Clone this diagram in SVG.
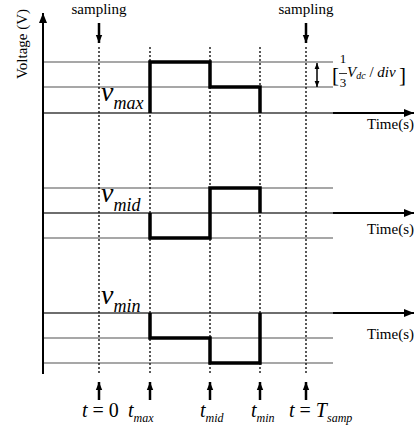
<svg xmlns="http://www.w3.org/2000/svg" width="417" height="427" viewBox="0 0 417 427">
<defs>
<style>
text{font-family:"Liberation Serif","Times New Roman",serif;fill:#000}
.it{font-style:italic}
.grid{stroke:#8a8a8a;stroke-width:1.5;fill:none}
.axisg{stroke:#6e6e6e;stroke-width:2;fill:none}
.axis{stroke:#000;stroke-width:2;fill:none}
.dot{stroke:#000;stroke-width:1.3;stroke-dasharray:2 2;fill:none}
.wave{stroke:#000;stroke-width:3.5;fill:none;stroke-linejoin:miter}
.arr{stroke:#000;stroke-width:2.5;fill:none}
.lbl{font-size:15px}
.tl{font-size:15px}
</style>
<marker id="ah" viewBox="0 0 10 8" refX="10" refY="4" markerWidth="10" markerHeight="8" markerUnits="userSpaceOnUse" orient="auto">
<path d="M0,0 L10,4 L0,8 z" fill="#000"/>
</marker>
<marker id="ahs" viewBox="0 0 10 8" refX="10" refY="4" markerWidth="8" markerHeight="8" markerUnits="userSpaceOnUse" orient="auto">
<path d="M0,0 L10,4 L0,8 z" fill="#000"/>
</marker>
<marker id="ahs2" viewBox="0 0 10 8" refX="10" refY="4" markerWidth="6" markerHeight="6" markerUnits="userSpaceOnUse" orient="auto-start-reverse">
<path d="M0,0 L10,4 L0,8 z" fill="#000"/>
</marker>
</defs>

<g id="grid">
<line class="grid" x1="43" y1="62" x2="333" y2="62"/>
<line class="grid" x1="43" y1="87" x2="333" y2="87"/>
<line class="axisg" x1="43" y1="113" x2="333" y2="113"/>
<line class="grid" x1="43" y1="188" x2="333" y2="188"/>
<line class="axisg" x1="43" y1="213" x2="333" y2="213"/>
<line class="grid" x1="43" y1="238" x2="333" y2="238"/>
<line class="axisg" x1="43" y1="313" x2="333" y2="313"/>
<line class="grid" x1="43" y1="338" x2="333" y2="338"/>
<line class="grid" x1="43" y1="363" x2="333" y2="363"/>
</g>

<g id="dotted">
<line class="dot" x1="99" y1="47" x2="99" y2="374"/>
<line class="dot" x1="150" y1="47" x2="150" y2="374"/>
<line class="dot" x1="210" y1="47" x2="210" y2="374"/>
<line class="dot" x1="260" y1="47" x2="260" y2="374"/>
<line class="dot" x1="306" y1="47" x2="306" y2="374"/>
</g>

<g id="connectors">
<line class="axis" x1="43" y1="374" x2="43" y2="13" marker-end="url(#ah)"/>
<line class="axis" x1="333" y1="113" x2="414" y2="113" marker-end="url(#ah)"/>
<line class="axis" x1="333" y1="213" x2="414" y2="213" marker-end="url(#ah)"/>
<line class="axis" x1="333" y1="313" x2="414" y2="313" marker-end="url(#ah)"/>
<line class="arr" x1="99" y1="23" x2="99" y2="43" marker-end="url(#ahs)"/>
<line class="arr" x1="306" y1="23" x2="306" y2="43" marker-end="url(#ahs)"/>
<line class="arr" x1="99" y1="400" x2="99" y2="382" marker-end="url(#ahs)"/>
<line class="arr" x1="150" y1="400" x2="150" y2="382" marker-end="url(#ahs)"/>
<line class="arr" x1="210" y1="400" x2="210" y2="382" marker-end="url(#ahs)"/>
<line class="arr" x1="260" y1="400" x2="260" y2="382" marker-end="url(#ahs)"/>
<line class="arr" x1="306" y1="400" x2="306" y2="382" marker-end="url(#ahs)"/>
<line stroke="#000" stroke-width="1.5" x1="317" y1="63" x2="317" y2="87" marker-start="url(#ahs2)" marker-end="url(#ahs2)"/>
</g>

<g id="wave-max">
<polyline class="wave" points="150,113 150,62 210,62 210,87 260,87 260,113"/>
<text class="it" x="101" y="101" font-size="28">v<tspan font-size="18" dy="8">max</tspan></text>
</g>
<g id="wave-mid">
<polyline class="wave" points="150,213 150,238 210,238 210,188 260,188 260,213"/>
<text class="it" x="101" y="202" font-size="28">v<tspan font-size="18" dy="9">mid</tspan></text>
</g>
<g id="wave-min">
<polyline class="wave" points="150,313 150,338 210,338 210,363 260,363 260,313"/>
<text class="it" x="101" y="304" font-size="28">v<tspan font-size="18" dy="8">min</tspan></text>
</g>

<g id="labels">
<text class="lbl" x="99" y="14" text-anchor="middle">sampling</text>
<text class="lbl" x="306" y="14" text-anchor="middle">sampling</text>
<text class="lbl" transform="translate(27,44) rotate(-90)" text-anchor="middle">Voltage (V)</text>
<text class="tl" x="414" y="129" text-anchor="end">Time(s)</text>
<text class="tl" x="414" y="234" text-anchor="end">Time(s)</text>
<text class="tl" x="414" y="339" text-anchor="end">Time(s)</text>
</g>

<g id="scale">
<text x="332" y="82" font-size="21">[</text>
<text x="343" y="63" font-size="13" text-anchor="middle">1</text>
<line x1="339" y1="73.5" x2="347" y2="73.5" stroke="#000" stroke-width="0.8"/>
<text x="343" y="87" font-size="13" text-anchor="middle">3</text>
<text x="347" y="77" font-size="15"><tspan class="it">V</tspan><tspan class="it" font-size="10" dy="2">dc</tspan><tspan dy="-2"> / </tspan><tspan class="it">div</tspan></text>
<text x="399" y="82" font-size="21">]</text>
</g>

<g id="times">
<text x="82" y="417" font-size="20"><tspan class="it">t</tspan> = 0</text>
<text x="128" y="417" font-size="20" class="it">t<tspan font-size="12" dy="5">max</tspan></text>
<text x="200" y="417" font-size="20" class="it">t<tspan font-size="12" dy="5">mid</tspan></text>
<text x="251" y="417" font-size="20" class="it">t<tspan font-size="12" dy="5">min</tspan></text>
<text x="289" y="417" font-size="20"><tspan class="it">t</tspan> = <tspan class="it">T</tspan><tspan class="it" font-size="12" dy="5">samp</tspan></text>
</g>
</svg>
